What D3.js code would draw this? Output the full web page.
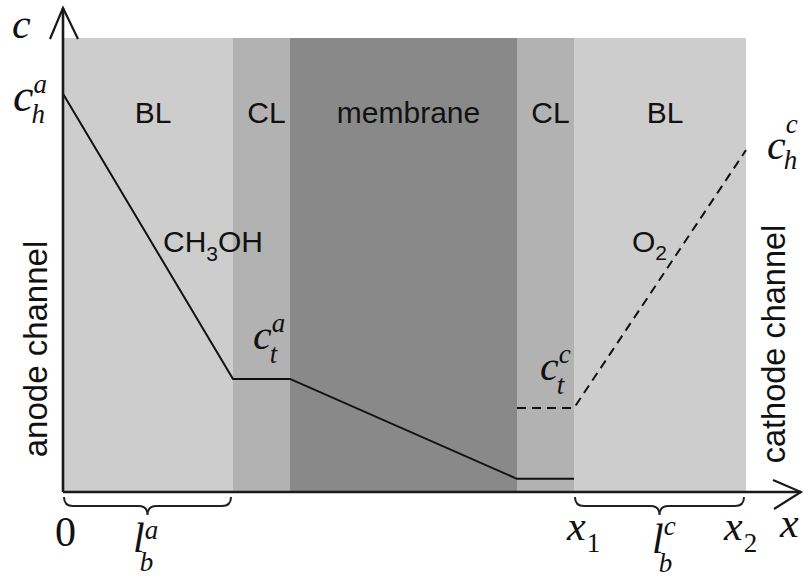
<!DOCTYPE html>
<html>
<head>
<meta charset="utf-8">
<script src="https://cdn.jsdelivr.net/npm/d3@7"></script>
<style>
  body { margin: 0; background: #fff; }
  svg { display: block; }
</style>
</head>
<body>
<div id="chart"></div>
<script>
// layers of the cell, edges along x (arbitrary length units)
const layerNames = ["BL", "CL", "membrane", "CL", "BL"];
const layerEdges = [0, 1.70, 2.27, 4.54, 5.11, 6.83];
const layerFills = ["#cdcdcd", "#b2b2b2", "#898989", "#b2b2b2", "#cdcdcd"];

// methanol concentration (anode side, solid)
const anodeX = [0, 1.70, 2.27, 4.54, 5.11];
const anodeC = [0.877, 0.249, 0.249, 0.029, 0.029];

// oxygen concentration (cathode side, dashed)
const cathodeX = [4.54, 5.11, 6.83];
const cathodeC = [0.185, 0.185, 0.753];

const width = 803, height = 578;
const serif = "'Liberation Serif', 'DejaVu Serif', serif";
const sans = "'Liberation Sans', Arial, sans-serif";

const x = d3.scaleLinear().domain([0, 6.83]).range([63, 746]);
const y = d3.scaleLinear().domain([0, 1]).range([492, 38]);

const svg = d3.select("#chart").append("svg")
  .attr("width", width)
  .attr("height", height);

// layer bands
const layers = layerNames.map((name, i) => ({
  name: name, x0: layerEdges[i], x1: layerEdges[i + 1], fill: layerFills[i]
}));

svg.selectAll(".layer")
  .data(layers)
  .enter()
  .append("rect")
  .attr("class", "layer")
  .attr("x", d => x(d.x0))
  .attr("y", y(1))
  .attr("width", d => x(d.x1) - x(d.x0))
  .attr("height", y(0) - y(1))
  .style("fill", d => d.fill);

svg.selectAll(".layer-label")
  .data(layers)
  .enter()
  .append("text")
  .attr("x", d => (x(d.x0) + x(d.x1)) / 2 + 5)
  .attr("y", 123)
  .attr("text-anchor", "middle")
  .style("font-family", sans)
  .style("font-size", "30px")
  .style("fill", "#111")
  .text(d => d.name);

// concentration profiles
const line = d3.line().x(d => x(d[0])).y(d => y(d[1]));

svg.append("path")
  .attr("d", line(anodeX.map((v, i) => [v, anodeC[i]])))
  .style("fill", "none")
  .style("stroke", "#111")
  .style("stroke-width", 2);

svg.append("path")
  .attr("d", line(cathodeX.map((v, i) => [v, cathodeC[i]])))
  .style("fill", "none")
  .style("stroke", "#111")
  .style("stroke-width", 2)
  .style("stroke-dasharray", "9,6");

// axes with open arrow heads
const axisColor = "#1a1a1a";
svg.append("line")
  .attr("x1", x(0)).attr("y1", y(0))
  .attr("x2", x(0)).attr("y2", 8)
  .style("stroke", axisColor).style("stroke-width", 2.6);
svg.append("path")
  .attr("d", `M${x(0) - 13},39 L${x(0)},8 L${x(0) + 15},39`)
  .style("fill", "none").style("stroke", axisColor).style("stroke-width", 2.2);

svg.append("line")
  .attr("x1", x(0)).attr("y1", y(0))
  .attr("x2", 801).attr("y2", y(0))
  .style("stroke", axisColor).style("stroke-width", 2.6);
svg.append("path")
  .attr("d", `M773,${y(0) - 12} L801,${y(0)} L774,${y(0) + 17}`)
  .style("fill", "none").style("stroke", axisColor).style("stroke-width", 2.2);

// braces under the backing layers
function brace(x1, x2, y0, h) {
  const xm = (x1 + x2) / 2, r = 9, ym = y0 + h / 2;
  return `M${x1},${y0} Q${x1},${ym} ${x1 + r},${ym} L${xm - r},${ym} Q${xm},${ym} ${xm},${y0 + h}` +
         ` Q${xm},${ym} ${xm + r},${ym} L${x2 - r},${ym} Q${x2},${ym} ${x2},${y0}`;
}
[[layerEdges[0], layerEdges[1]], [layerEdges[4], layerEdges[5]]].forEach(([a, b]) => {
  svg.append("path")
    .attr("d", brace(x(a) + 1, x(b) - 2, 497, 18))
    .style("fill", "none")
    .style("stroke", "#222")
    .style("stroke-width", 2);
});

// math labels: base symbol with optional super/subscript
function mathLabel(px, py, base, sup, sub, opt) {
  opt = opt || {};
  const g = svg.append("g").style("font-family", serif).style("fill", "#111");
  const t = g.append("text")
    .attr("x", px).attr("y", py)
    .style("font-size", (opt.size || 42) + "px")
    .style("font-style", opt.upright ? "normal" : "italic")
    .text(base);
  const w = t.node().getComputedTextLength();
  if (sup) {
    g.append("text")
      .attr("x", px + w + (opt.supDx || 0)).attr("y", py + (opt.supDy || -18))
      .style("font-size", "27px").style("font-style", "italic")
      .text(sup);
  }
  if (sub) {
    g.append("text")
      .attr("x", px + w + (opt.subDx || -2)).attr("y", py + (opt.subDy || 12))
      .style("font-size", "27px")
      .style("font-style", opt.subUpright ? "normal" : "italic")
      .text(sub);
  }
}

mathLabel(12, 38, "c");
mathLabel(13, 111, "c", "a", "h", { size: 46 });
mathLabel(x(anodeX[2]) - 37, 349, "c", "a", "t", { supDy: -17, subDy: 14 });
mathLabel(x(cathodeX[0]) + 23, 380, "c", "c", "t", { supDy: -17, subDy: 14 });
mathLabel(x(cathodeX[2]) + 21, 159, "c", "c", "h", { supDy: -26, subDy: 10 });

mathLabel(x(0) - 8, 546, "0", null, null, { upright: true });
mathLabel(133, 552, "l", "a", "b", { supDy: -13, subDy: 19, subDx: -5 });
mathLabel(x(layerEdges[4]) - 7, 540, "x", null, "1", { subUpright: true, subDy: 12, subDx: 1 });
mathLabel(652, 553, "l", "c", "b", { supDy: -18, subDy: 19, subDx: -5 });
mathLabel(x(layerEdges[5]) - 22, 540, "x", null, "2", { subUpright: true, subDy: 12, subDx: 1 });
mathLabel(780, 537, "x");

// species labels
const ch = svg.append("text")
  .attr("x", 163).attr("y", 252)
  .style("font-family", sans).style("font-size", "30px").style("fill", "#111");
ch.append("tspan").text("CH");
ch.append("tspan").attr("dy", 9).style("font-size", "21px").text("3");
ch.append("tspan").attr("dy", -9).text("OH");

const o2 = svg.append("text")
  .attr("x", 632).attr("y", 252)
  .style("font-family", sans).style("font-size", "30px").style("fill", "#111");
o2.append("tspan").text("O");
o2.append("tspan").attr("dy", 8).style("font-size", "21px").text("2");

// channel labels
svg.append("text")
  .attr("transform", "translate(47,349) rotate(-90)")
  .attr("text-anchor", "middle")
  .style("font-family", sans).style("font-size", "33px").style("fill", "#111")
  .text("anode channel");

svg.append("text")
  .attr("transform", "translate(785,344) rotate(-90)")
  .attr("text-anchor", "middle")
  .style("font-family", sans).style("font-size", "32.5px").style("fill", "#111")
  .text("cathode channel");
</script>
</body>
</html>
